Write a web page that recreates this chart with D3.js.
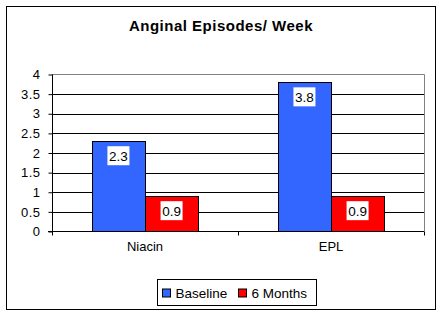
<!DOCTYPE html>
<html>
<head>
<meta charset="utf-8">
<script src="https://cdn.jsdelivr.net/npm/d3@7"></script>
<style>
  body { margin: 0; background: #fff; }
  svg text { font-family: "Liberation Sans", Arial, sans-serif; }
</style>
</head>
<body>
<div id="vis"></div>
<script>
var categories = ['Niacin', 'EPL'];
var seriesNames = ['Baseline', '6 Months'];
var baseline = [2.3, 3.8];
var sixMonths = [0.9, 0.9];
var yTicks = [0, 0.5, 1, 1.5, 2, 2.5, 3, 3.5, 4];
var colors = ['#3366ff', '#ff0000'];

var width = 442, height = 316;
var plot = { left: 52, top: 74.5, right: 424, bottom: 231.5 };

var svg = d3.select('#vis')
    .append('svg')
    .attr('width', width)
    .attr('height', height);

// outer frame
svg.append('rect')
    .attr('x', 6.5).attr('y', 6.5)
    .attr('width', 429).attr('height', 303)
    .style('fill', 'white')
    .style('stroke', 'black')
    .style('stroke-width', 1);

svg.append('text')
    .text('Anginal Episodes/ Week')
    .attr('x', 221).attr('y', 31)
    .attr('text-anchor', 'middle')
    .attr('font-size', 15)
    .attr('letter-spacing', 0.5)
    .attr('font-weight', 'bold');

var x0 = d3.scaleBand()
    .domain(categories)
    .range([plot.left, plot.right]);

var x1 = d3.scaleBand()
    .domain(seriesNames)
    .range([0, x0.bandwidth()])
    .paddingInner(0)
    .paddingOuter(0.75);

var y = d3.scaleLinear()
    .domain([0, 4])
    .range([plot.bottom, plot.top]);

// gridlines
svg.append('g')
    .selectAll('line')
    .data(yTicks.slice(1, -1))
    .enter()
    .append('line')
    .attr('x1', plot.left).attr('x2', plot.right)
    .attr('y1', function(d) { return Math.round(y(d)) + 0.5; })
    .attr('y2', function(d) { return Math.round(y(d)) + 0.5; })
    .style('stroke', 'black');

// plot border top + right (gray)
svg.append('path')
    .attr('d', 'M' + plot.left + ',' + plot.top + 'H' + (plot.right + 0.5) + 'V' + plot.bottom)
    .style('fill', 'none')
    .style('stroke', '#808080');

var data = [];
categories.forEach(function(c, i) {
    data.push({ cat: c, s: seriesNames[0], v: baseline[i] });
    data.push({ cat: c, s: seriesNames[1], v: sixMonths[i] });
});

svg.append('g')
    .selectAll('rect')
    .data(data)
    .enter()
    .append('rect')
    .attr('x', function(d) { return Math.round(x0(d.cat) + x1(d.s)) + 0.5; })
    .attr('y', function(d) { return Math.round(y(d.v)) + 0.5; })
    .attr('width', Math.round(x1.bandwidth()))
    .attr('height', function(d) { return Math.round(plot.bottom - y(d.v)); })
    .style('fill', function(d) { return colors[seriesNames.indexOf(d.s)]; })
    .style('stroke', 'black')
    .style('stroke-width', 1);

// data labels
var lbl = svg.append('g')
    .selectAll('g')
    .data(data)
    .enter()
    .append('g')
    .attr('transform', function(d) {
        return 'translate(' + (x0(d.cat) + x1(d.s) + x1.bandwidth() / 2) + ',' + (y(d.v) + 5) + ')';
    });
lbl.append('rect')
    .attr('x', -11).attr('y', 0)
    .attr('width', 22).attr('height', 19)
    .style('fill', 'white');
lbl.append('text')
    .text(function(d) { return d3.format('.1f')(d.v); })
    .attr('text-anchor', 'middle')
    .attr('y', 14.5)
    .attr('font-size', 13.5);

// y axis
var yAxis = d3.axisLeft(y)
    .tickValues(yTicks)
    .tickSize(4)
    .tickPadding(8)
    .tickFormat(d3.format('~g'));
var ya = svg.append('g')
    .attr('class', 'y axis')
    .attr('transform', 'translate(' + (plot.left + 0.5) + ',0)')
    .call(yAxis);
ya.select('.domain').attr('d', 'M0,' + plot.top + 'V' + plot.bottom).style('stroke', 'black');
ya.selectAll('line').style('stroke', 'black');
ya.selectAll('text').attr('font-size', 13).attr('letter-spacing', 0.5).style('fill', 'black')
    .style('font-family', '"Liberation Sans", Arial, sans-serif');

// x axis
var xa = svg.append('g')
    .attr('class', 'x axis')
    .attr('transform', 'translate(0,' + plot.bottom + ')')
    .call(d3.axisBottom(x0).tickSize(0).tickPadding(10));
xa.select('.domain').attr('d', 'M' + (plot.left - 4) + ',0H' + plot.right).style('stroke', 'black');
xa.selectAll('text').attr('font-size', 13).style('fill', 'black')
    .style('font-family', '"Liberation Sans", Arial, sans-serif');
// category boundary ticks
xa.selectAll('line.bound')
    .data([plot.left, x0('EPL'), plot.right])
    .enter()
    .append('line')
    .attr('class', 'bound')
    .attr('x1', function(d) { return Math.round(d) + 0.5; })
    .attr('x2', function(d) { return Math.round(d) + 0.5; })
    .attr('y1', 0).attr('y2', 4)
    .style('stroke', 'black');

// legend
var legend = svg.append('g').attr('transform', 'translate(157.5,279.5)');
legend.append('rect')
    .attr('width', 159).attr('height', 26)
    .style('fill', 'white').style('stroke', 'black');
var lx = [5, 81];
seriesNames.forEach(function(s, i) {
    legend.append('rect')
        .attr('x', lx[i]).attr('y', 9.5)
        .attr('width', 8).attr('height', 8)
        .style('fill', colors[i]).style('stroke', 'black');
    legend.append('text')
        .text(s)
        .attr('x', lx[i] + 13).attr('y', 18)
        .attr('font-size', 13.5);
});
</script>
</body>
</html>
